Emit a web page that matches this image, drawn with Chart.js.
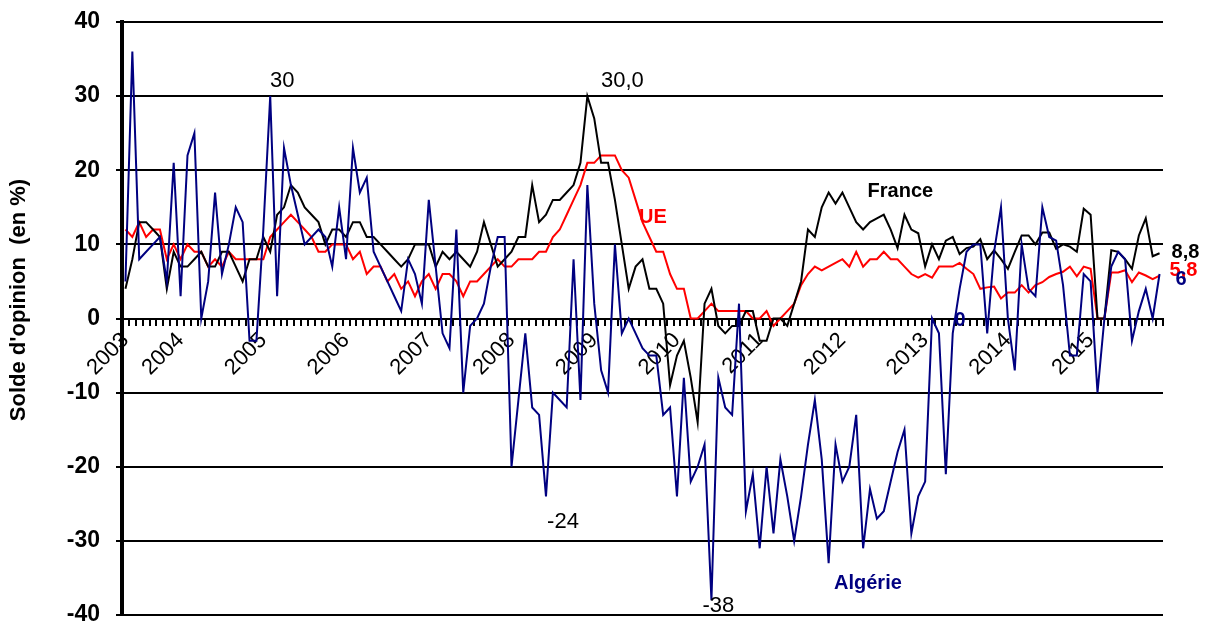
<!DOCTYPE html>
<html>
<head>
<meta charset="utf-8">
<script src="https://cdn.jsdelivr.net/npm/chart.js@4.4.0/dist/chart.umd.min.js"></script>
<style>
  html, body { margin: 0; padding: 0; background: #fff; }
  #wrap { width: 1208px; height: 628px; }
</style>
</head>
<body>
<div id="wrap"><canvas id="c" width="1208" height="628"></canvas></div>
<script>
// mois : mai 2003 -> novembre 2015
var startYear = 2003, startMonth = 5, nMonths = 151;
var years = ['2003', '2004', '2005', '2006', '2007', '2008', '2009', '2010', '2011', '2012', '2013', '2014', '2015'];
var yTicks = [-40, -30, -20, -10, 0, 10, 20, 30, 40];

var algerie = [5, 36, 8, 9, 10, 11, 5, 21, 3, 22, 25, 0, 5, 17, 6, 10, 15, 13, -3, -3,
  12, 30, 3, 23, 18, 14, 10, 11, 12, 11, 7, 15, 8, 23, 17, 19, 9, 7, 5, 3,
  1, 8, 6, 2, 16, 7, -2, -4, 12, -10, -1, 0, 2, 7, 11, 11, -20, -11, -2, -12,
  -13, -24, -10, -11, -12, 8, -11, 18, 2, -7, -10, 10, -2, 0, -2, -4, -5, -5, -13, -12,
  -24, -8, -22, -20, -17, -38, -8, -12, -13, 2, -26, -21, -31, -20, -29, -19, -24, -30, -24, -17,
  -11, -19, -33, -17, -22, -20, -13, -31, -23, -27, -26, -22, -18, -15, -29, -24, -22, 0, -2, -21,
  -2, 4, 9, 10, 10, -2, 9, 15, 0, -7, 10, 4, 3, 15, 11, 10.5, 4.5, -5, -5, 6,
  5, -10, 0, 7, 9, 8, -3, 1, 4, 0, 6];

var france = [4, 8, 13, 13, 12, 11, 4, 9, 7, 7, 8, 9, 7, 7, 9, 9, 7, 5, 8, 8,
  11, 9, 14, 15, 18, 17, 15, 14, 13, 10, 12, 12, 11, 13, 13, 11, 11, 10, 9, 8,
  7, 8, 10, 10, 10, 7, 9, 8, 9, 8, 7, 9, 13, 10, 7, 8, 9, 11, 11, 18,
  13, 14, 16, 16, 17, 18, 21, 30, 27, 21, 21, 16, 10, 4, 7, 8, 4, 4, 2, -9,
  -5, -3, -8, -14, 2, 4, -1, -2, -1, -1, 1, 1, -3, -3, 0, 0, -1, 2, 5, 12,
  11, 15, 17, 15.5, 17, 15, 13, 12, 13, 13.5, 14, 12, 9.5, 14, 12, 11.5, 7, 10, 8, 10.5,
  11, 8.7, 9.5, 9.7, 10.7, 8, 9.2, 8, 6.7, 9, 11.2, 11.2, 10, 11.6, 11.6, 9.4, 10, 9.7, 9, 14.8,
  14, 0, 0, 9.2, 9, 8, 6.7, 11.2, 13.5, 8.4, 8.8];

var ue = [12, 11, 13, 11, 12, 12, 8, 10, 8, 10, 9, 9, 7, 8, 7, 9, 8, 8, 8, 8,
  8, 11, 12, 13, 14, 13, 12, 11, 9, 9, 10, 10, 10, 8, 9, 6, 7, 7, 5, 6,
  4, 5, 3, 5, 6, 4, 6, 6, 5, 3, 5, 5, 6, 7, 8, 7, 7, 8, 8, 8,
  9, 9, 11, 12, 14, 16, 18, 21, 21, 22, 22, 22, 20, 19, 16, 13, 11, 9, 9, 6,
  4, 4, 0, 0, 1, 2, 1, 1, 1, 1, 1, 0, 0, 1, -1, 0, 1, 2, 4.5, 6,
  7, 6.5, 7, 7.5, 8, 7, 9, 7, 8, 8, 9, 8, 8, 7, 6, 5.5, 6, 5.5, 7, 7,
  7, 7.5, 6.7, 6, 4, 4.2, 4.3, 2.7, 3.5, 3.5, 4.5, 3.5, 4.5, 4.9, 5.6, 6, 6.3, 7, 5.7, 7,
  6.7, 0, 0, 6.2, 6.2, 6.5, 4.9, 6.2, 5.8, 5.3, 5.8];

var months = [];
for (var i = 0; i < nMonths; i++) {
  var m = startMonth - 1 + i;
  var mm = (m % 12) + 1;
  months.push(years[Math.floor(m / 12)] + '-' + (mm < 10 ? '0' : '') + mm);
}

var FONT = '"Liberation Sans", Arial, sans-serif';

// textes posés sur le graphique : [texte, index, valeur, dx, dy, gras, taille, couleur, alignement]
var notes = [
  ['30', 21, 30, 12, -15, false, 22, '#000', 'center'],
  ['30,0', 67, 30, 35, -15, false, 22, '#000', 'center'],
  ['-24', 61, -24, 17, 26, false, 22, '#000', 'center'],
  ['-38', 85, -38, 7, 6, false, 22, '#000', 'center'],
  ['0', 117, 0, 28, 2, true, 20, '#000080', 'center'],
  ['8,8', 150, 8.8, 12, -1, true, 20, '#000', 'left'],
  ['5,8', 150, 5.8, 10, -5, true, 20, '#ff0000', 'left'],
  ['6', 150, 6, 16, 5, true, 20, '#000080', 'left'],
  ['France', 112.4, 17.1, 0, 0, true, 20, '#000', 'center'],
  ['UE', 76.5, 13.6, 0, 0, true, 20, '#ff0000', 'center'],
  ['Algérie', 107.7, -35.7, 0, 0, true, 20, '#000080', 'center']
];

var textPlugin = {
  id: 'texts',
  afterDatasetsDraw: function(chart) {
    var ctx = chart.ctx, xs = chart.scales.x, ys = chart.scales.y;
    ctx.save();
    ctx.textBaseline = 'middle';
    notes.forEach(function(n) {
      var x = xs.left + (n[1] + 0.5) * (xs.width / nMonths) + n[3];
      var y = ys.getPixelForValue(n[2]) + n[4];
      ctx.font = (n[5] ? 'bold ' : '') + n[6] + 'px ' + FONT;
      ctx.fillStyle = n[7];
      ctx.textAlign = n[8];
      ctx.fillText(n[0], x, y);
    });
    // titre de l'axe vertical
    ctx.translate(19, 300);
    ctx.rotate(-Math.PI / 2);
    ctx.font = 'bold 22px ' + FONT;
    ctx.fillStyle = '#000';
    ctx.textAlign = 'center';
    ctx.fillText("Solde d'opinion  (en %)", 0, 0);
    ctx.restore();
  }
};

function noPad(s) {
  s.paddingTop = 0; s.paddingBottom = 0; s.paddingLeft = 0; s.paddingRight = 0;
}

new Chart(document.getElementById('c'), {
  type: 'line',
  data: {
    labels: months,
    datasets: [
      { label: 'Algérie', data: algerie, borderColor: '#000080', borderWidth: 2 },
      { label: 'France', data: france, borderColor: '#000000', borderWidth: 2 },
      { label: 'UE', data: ue, borderColor: '#ff0000', borderWidth: 2 }
    ]
  },
  options: {
    responsive: false,
    animation: false,
    devicePixelRatio: 1,
    layout: { padding: { left: 0, right: 45, top: 22, bottom: 13 } },
    elements: { point: { radius: 0 }, line: { tension: 0 } },
    plugins: { legend: { display: false }, tooltip: { enabled: false } },
    scales: {
      x: {
        type: 'category',
        offset: true,
        position: { y: 0 },
        grid: { display: true, drawOnChartArea: false, drawTicks: true, tickLength: 6, color: '#000', lineWidth: 2, offset: true },
        border: { display: true, color: '#000', width: 2 },
        ticks: {
          autoSkip: false, maxRotation: 45, minRotation: 45, padding: 3,
          color: '#000', font: { family: FONT, size: 22 },
          callback: function(value, index) {
            var lab = this.getLabelForValue(value);
            return (index === 0 || lab.slice(5) === '01') ? lab.slice(0, 4) : '';
          }
        },
        afterFit: function(s) { s.height = 0; noPad(s); }
      },
      y: {
        min: -40, max: 40,
        afterBuildTicks: function(s) { s.ticks = yTicks.map(function(v) { return { value: v }; }); },
        grid: { color: '#000', lineWidth: 2, tickLength: 6, drawTicks: true },
        border: { display: true, color: '#000', width: 4 },
        ticks: { color: '#000', padding: 16, font: { family: FONT, size: 23, weight: 'bold' } },
        afterFit: function(s) { s.width = 122; noPad(s); }
      }
    }
  },
  plugins: [textPlugin]
});
</script>
</body>
</html>
